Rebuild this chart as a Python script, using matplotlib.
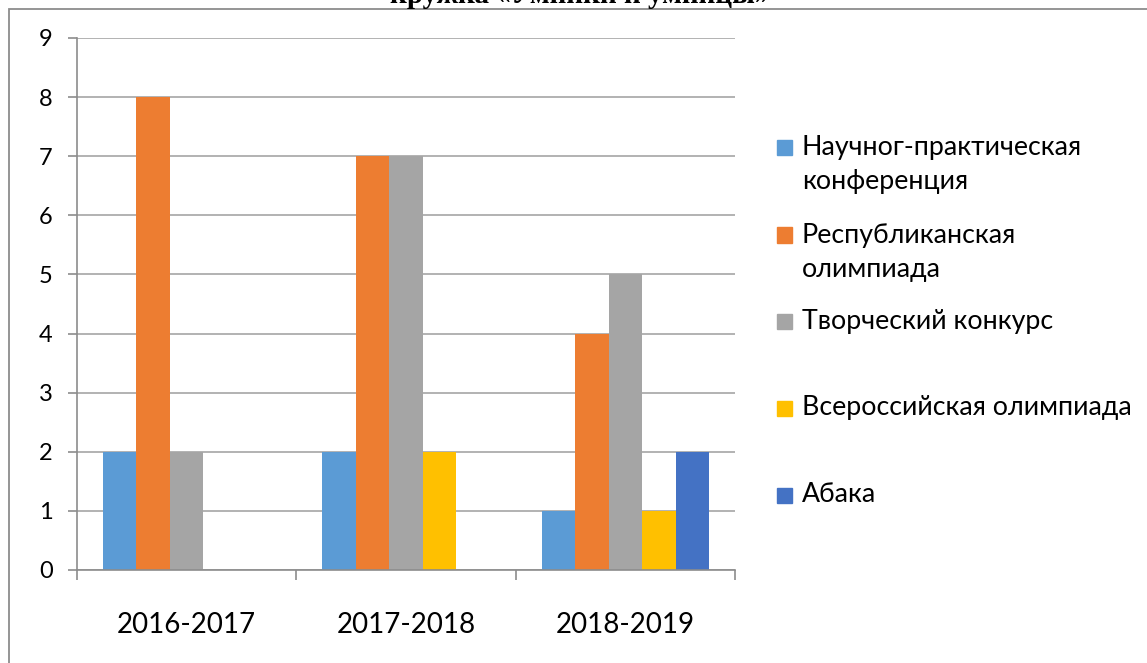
import matplotlib
matplotlib.use("Agg")
import matplotlib.pyplot as plt
from matplotlib.patches import Rectangle
import numpy as np

categories = ["2016-2017", "2017-2018", "2018-2019"]
series_names = ["Научног-практическая\nконференция",
                "Республиканская\nолимпиада",
                "Творческий конкурс",
                "Всероссийская олимпиада",
                "Абака"]
series_values = [
    [2, 2, 1],
    [8, 7, 4],
    [2, 7, 5],
    [0, 2, 1],
    [0, 0, 2],
]
series_colors = ["#5B9BD5", "#ED7D31", "#A5A5A5", "#FFC000", "#4472C4"]
y_ticks = list(range(0, 10))
title_text = "кружка «Умники и умницы»"

W, H = 1147, 663
DPI = 100
plt.rcParams['font.family'] = ['Lato', 'DejaVu Sans']

fig = plt.figure(figsize=(W / DPI, H / DPI), dpi=DPI)
fig.patch.set_facecolor("white")

def fx(px):
    return px / W

def fy(py):
    return 1 - py / H

# chart border
fig.patches.append(Rectangle((fx(9), fy(700)), fx(1200) - fx(9), fy(9) - fy(700),
                             transform=fig.transFigure, fill=False,
                             edgecolor="#8c8c8c", linewidth=1.3))

# title (cut off at top, as in the source)
fig.text(fx(580), fy(3), title_text, ha="center", va="baseline",
         fontsize=21, fontweight="bold", family=["Liberation Serif"])

ax = fig.add_axes([fx(77), fy(570), fx(735) - fx(77), fy(38) - fy(570)])
n = len(series_values)
x = np.arange(len(categories))
w = 33.5 / 219.3
for j, (vals, col) in enumerate(zip(series_values, series_colors)):
    ax.bar(x + (j - (n - 1) / 2) * w, vals, width=w, color=col, zorder=3)

ax.set_xlim(-0.5, len(categories) - 0.5)
ax.set_ylim(0, 9)
ax.set_yticks(y_ticks)
ax.set_yticklabels([str(t) for t in y_ticks])
ax.yaxis.grid(True, color="#a6a6a6", linewidth=1.2, zorder=0)
ax.set_xticks(x)
ax.set_xticklabels(categories)
ax.set_xticks(np.arange(len(categories) + 1) - 0.5, minor=True)
ax.tick_params(axis="x", which="major", length=0, pad=30, labelsize=20)
ax.tick_params(axis="x", which="minor", length=7, width=1.2, color="#8c8c8c", direction="out")
ax.tick_params(axis="y", length=6.5, width=1.2, color="#8c8c8c", pad=11, labelsize=17)
for s in ["top", "right"]:
    ax.spines[s].set_visible(False)
ax.spines["left"].set_color("#8c8c8c")
ax.spines["bottom"].set_color("#8c8c8c")
ax.spines["left"].set_linewidth(1.2)
ax.spines["bottom"].set_linewidth(1.2)
ax.spines["bottom"].set_zorder(4)

# legend
leg_y = [147, 235, 321, 408, 495]
for name, col, yc in zip(series_names, series_colors, leg_y):
    fig.patches.append(Rectangle((fx(777), fy(yc + 7.5)), fx(15), fy(0) - fy(15),
                                 transform=fig.transFigure, color=col))
    for k, line in enumerate(name.split("\n")):
        fig.text(fx(802), fy(yc + k * 35), line, ha="left", va="center", fontsize=19.3)

fig.savefig("out.png", dpi=DPI)
